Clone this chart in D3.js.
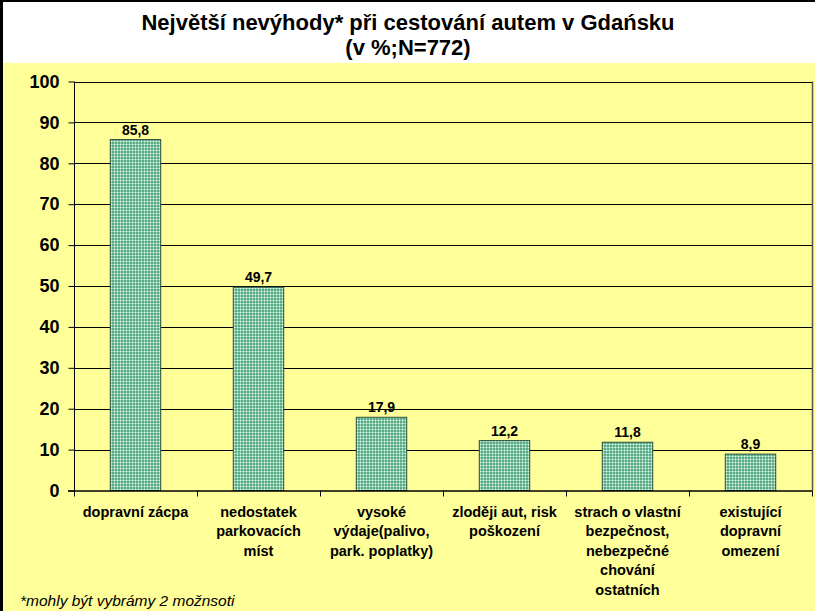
<!DOCTYPE html>
<html>
<head>
<meta charset="utf-8">
<script src="https://cdn.jsdelivr.net/npm/d3@7"></script>
<style>
  html, body { margin: 0; padding: 0; background: #ffffff; }
  svg { display: block; }
  text { font-family: "Liberation Sans", Arial, sans-serif; }
  .b { font-weight: 700; }
</style>
</head>
<body>
<div id="chart"></div>
<script>
// chart data
var categories = [
    ['dopravní zácpa'],
    ['nedostatek', 'parkovacích', 'míst'],
    ['vysoké', 'výdaje(palivo,', 'park. poplatky)'],
    ['zloději aut, risk', 'poškození'],
    ['strach o vlastní', 'bezpečnost,', 'nebezpečné', 'chování', 'ostatních'],
    ['existující', 'dopravní', 'omezení']
];
var values = [85.8, 49.7, 17.9, 12.2, 11.8, 8.9];
var valueLabels = ['85,8', '49,7', '17,9', '12,2', '11,8', '8,9'];
var yTicks = [0, 10, 20, 30, 40, 50, 60, 70, 80, 90, 100];
var titleLines = ['Největší nevýhody* při cestování autem v Gdańsku', '(v %;N=772)'];
var footnote = '*mohly být vybrámy 2 možnsoti';

var W = 815, H = 611;
var plot = { left: 74, right: 812, top: 81.5, bottom: 490.5 };

var svg = d3.select('#chart').append('svg')
    .attr('width', W).attr('height', H);

// bar texture
var defs = svg.append('defs');
var pat = defs.append('pattern')
    .attr('id', 'dots')
    .attr('patternUnits', 'userSpaceOnUse')
    .attr('width', 3).attr('height', 3);
pat.append('rect').attr('width', 3).attr('height', 3).attr('fill', '#5aab86');
pat.append('rect').attr('x', 0).attr('y', 0).attr('width', 3).attr('height', 1).attr('fill', '#93cfb3');
pat.append('rect').attr('x', 0).attr('y', 0).attr('width', 1).attr('height', 3).attr('fill', '#93cfb3');
pat.append('rect').attr('x', 0).attr('y', 0).attr('width', 1).attr('height', 1).attr('fill', '#e8f7ef');

// backgrounds
svg.append('rect').attr('x', 0).attr('y', 0).attr('width', W).attr('height', H).attr('fill', '#ffffff');
svg.append('rect').attr('x', 0).attr('y', 63).attr('width', W).attr('height', H - 63).attr('fill', '#ffff99');

// outer frame (top + left visible)
svg.append('line').attr('x1', 0).attr('x2', W).attr('y1', 1).attr('y2', 1)
    .attr('stroke', '#000').attr('stroke-width', 2);
svg.append('line').attr('x1', 1.5).attr('x2', 1.5).attr('y1', 0).attr('y2', H)
    .attr('stroke', '#000').attr('stroke-width', 3);

// title
svg.append('g').selectAll('text').data(titleLines).enter().append('text')
    .attr('class', 'b')
    .attr('x', 408)
    .attr('y', function (d, i) { return 30 + i * 25; })
    .attr('text-anchor', 'middle')
    .attr('font-size', '22px')
    .text(function (d) { return d; });

var x = d3.scaleBand()
    .domain(d3.range(values.length))
    .range([plot.left, plot.right])
    .paddingInner(0.59)
    .paddingOuter(0.295);

var y = d3.scaleLinear().domain([0, 100]).range([plot.bottom, plot.top]);

// gridlines
svg.append('g').selectAll('line').data(yTicks.slice(1)).enter().append('line')
    .attr('x1', plot.left).attr('x2', plot.right)
    .attr('y1', function (d) { return Math.round(y(d)) + 0.5; })
    .attr('y2', function (d) { return Math.round(y(d)) + 0.5; })
    .attr('stroke', '#000').attr('stroke-width', 1);

// right border of plot
svg.append('line')
    .attr('x1', plot.right + 0.5).attr('x2', plot.right + 0.5)
    .attr('y1', plot.top).attr('y2', plot.bottom)
    .attr('stroke', '#555').attr('stroke-width', 1.5);

// bars
svg.append('g').selectAll('rect').data(values).enter().append('rect')
    .attr('x', function (d, i) { return x(i); })
    .attr('y', function (d) { return y(d); })
    .attr('width', x.bandwidth())
    .attr('height', function (d) { return y(0) - y(d); })
    .attr('fill', 'url(#dots)')
    .attr('stroke', '#2c4f40')
    .attr('stroke-width', 1);

// value labels
svg.append('g').selectAll('text').data(values).enter().append('text')
    .attr('class', 'b')
    .attr('x', function (d, i) { return x(i) + x.bandwidth() / 2; })
    .attr('y', function (d) { return y(d) - 5; })
    .attr('text-anchor', 'middle')
    .attr('font-size', '14px')
    .text(function (d, i) { return valueLabels[i]; });

// y axis
var yAxis = svg.append('g')
    .attr('transform', 'translate(' + (plot.left + 0.5) + ',0)')
    .call(d3.axisLeft(y).tickValues(yTicks).tickSize(6).tickPadding(9));
yAxis.attr('font-family', null).attr('font-size', null);
yAxis.selectAll('path, line').attr('stroke', '#000').attr('stroke-width', 1);
yAxis.select('.domain').attr('d', 'M0,' + plot.top + 'V' + (plot.bottom + 0.5));
yAxis.selectAll('text')
    .attr('class', 'b')
    .attr('font-size', '18px')
    .attr('fill', '#000');

// x axis line and category ticks
var boundaries = d3.range(values.length + 1).map(function (i) {
    return plot.left + i * (plot.right - plot.left) / values.length;
});
svg.append('line')
    .attr('x1', plot.left - 6).attr('x2', plot.right)
    .attr('y1', plot.bottom + 0.5).attr('y2', plot.bottom + 0.5)
    .attr('stroke', '#000').attr('stroke-width', 1.5);
svg.append('g').selectAll('line').data(boundaries).enter().append('line')
    .attr('x1', function (d) { return Math.round(d) + 0.5; })
    .attr('x2', function (d) { return Math.round(d) + 0.5; })
    .attr('y1', plot.bottom).attr('y2', plot.bottom + 6)
    .attr('stroke', '#000').attr('stroke-width', 1);

// category labels
var catG = svg.append('g').selectAll('text').data(categories).enter().append('text')
    .attr('class', 'b')
    .attr('text-anchor', 'middle')
    .attr('font-size', '14.5px');
catG.selectAll('tspan').data(function (d, i) {
    return d.map(function (line) { return { line: line, i: i }; });
}).enter().append('tspan')
    .attr('x', function (d) { return x(d.i) + x.bandwidth() / 2; })
    .attr('y', function (d, j) { return 517 + j * 19.4; })
    .text(function (d) { return d.line; });

// footnote
svg.append('text')
    .attr('x', 20).attr('y', 606)
    .attr('font-style', 'italic')
    .attr('font-size', '15.5px')
    .text(footnote);
</script>
</body>
</html>
